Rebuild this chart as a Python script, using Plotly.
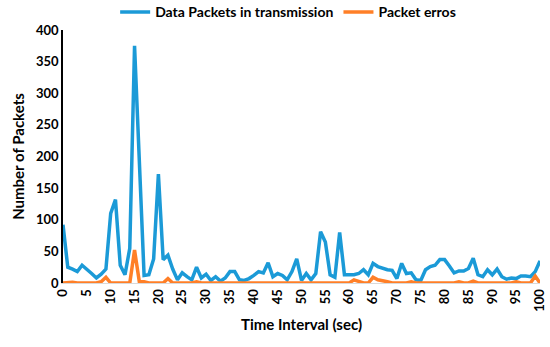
import plotly.graph_objects as go

time_sec = list(range(0, 101))
data_packets = [
    92, 25, 22, 18, 28, 22, 15, 8, 14, 22,
    110, 132, 28, 13, 55, 375, 200, 12, 13, 38,
    172, 37, 44, 22, 5, 16, 10, 5, 25, 8,
    14, 4, 10, 3, 8, 18, 18, 5, 4, 7,
    12, 18, 16, 32, 10, 15, 12, 5, 18, 38,
    4, 15, 5, 15, 81, 65, 13, 9, 80, 13,
    13, 13, 15, 21, 13, 31, 26, 23, 21, 20,
    7, 31, 15, 16, 5, 4, 21, 26, 28, 37,
    37, 27, 16, 19, 19, 23, 39, 13, 10, 21,
    13, 22, 10, 6, 8, 7, 11, 11, 10, 18,
    35,
]
packet_errors = [
    0, 1, 1, 0, 0, 0, 0, 0, 2, 9,
    0, 0, 0, 0, 0, 52, 2, 2, 0, 0,
    0, 0, 7, 0, 0, 0, 0, 0, 2, 0,
    0, 0, 0, 0, 0, 0, 0, 0, 0, 0,
    0, 0, 0, 0, 0, 0, 0, 0, 0, 0,
    0, 0, 0, 0, 0, 0, 0, 0, 0, 0,
    0, 5, 2, 0, 0, 9, 5, 4, 2, 0,
    0, 0, 0, 2, 0, 0, 0, 0, 0, 0,
    0, 0, 0, 2, 0, 0, 3, 0, 0, 0,
    0, 0, 0, 0, 0, 2, 0, 0, 0, 11,
    0,
]
x_ticks = list(range(0, 101, 5))
y_ticks = list(range(0, 401, 50))

FONT = "Lato"

fig = go.Figure()
fig.add_trace(go.Scatter(x=time_sec, y=data_packets, mode="lines",
                         name="Data Packets in transmission",
                         line=dict(color="#1B9AD7", width=3.5)))
fig.add_trace(go.Scatter(x=time_sec, y=packet_errors, mode="lines",
                         name="Packet erros",
                         line=dict(color="#FF7F27", width=3.5)))

# plot area: x 63..540, y 30..283 ; margins t=2, b=64 -> height 281
fig.update_layout(
    width=550, height=347,
    margin=dict(l=63, r=10, t=2, b=64, autoexpand=False),
    paper_bgcolor="white", plot_bgcolor="white",
    font=dict(family=FONT, size=13, color="black", weight="bold"),
    showlegend=True,
    legend=dict(orientation="h", x=0.472, xanchor="center", y=1.02, yanchor="top",
                font=dict(family=FONT, size=14, color="black", weight="bold"),
                itemwidth=30, bgcolor="rgba(0,0,0,0)"),
    xaxis=dict(range=[0, 100], tickvals=x_ticks, ticktext=[str(v) for v in x_ticks],
               tickangle=-90, showgrid=False, zeroline=False, automargin=False,
               showline=True, linecolor="#d9d9d9", linewidth=1, ticks="",
               title=dict(text="Time Interval (sec)", standoff=8,
                          font=dict(family=FONT, size=15, weight="bold")),
               tickfont=dict(family=FONT, size=13, weight="bold")),
    yaxis=dict(range=[0, 400], domain=[0, 253 / 281], tickvals=y_ticks,
               showgrid=False, zeroline=False, automargin=False,
               showline=True, linecolor="black", linewidth=1.5, ticks="",
               title=dict(text="Number of Packets", standoff=8,
                          font=dict(family=FONT, size=15, weight="bold")),
               tickfont=dict(family=FONT, size=13, weight="bold")),
)

fig.write_html("out.html", config={"displayModeBar": False},
               post_script="document.body.style.margin='0';document.body.style.overflow='hidden';")
